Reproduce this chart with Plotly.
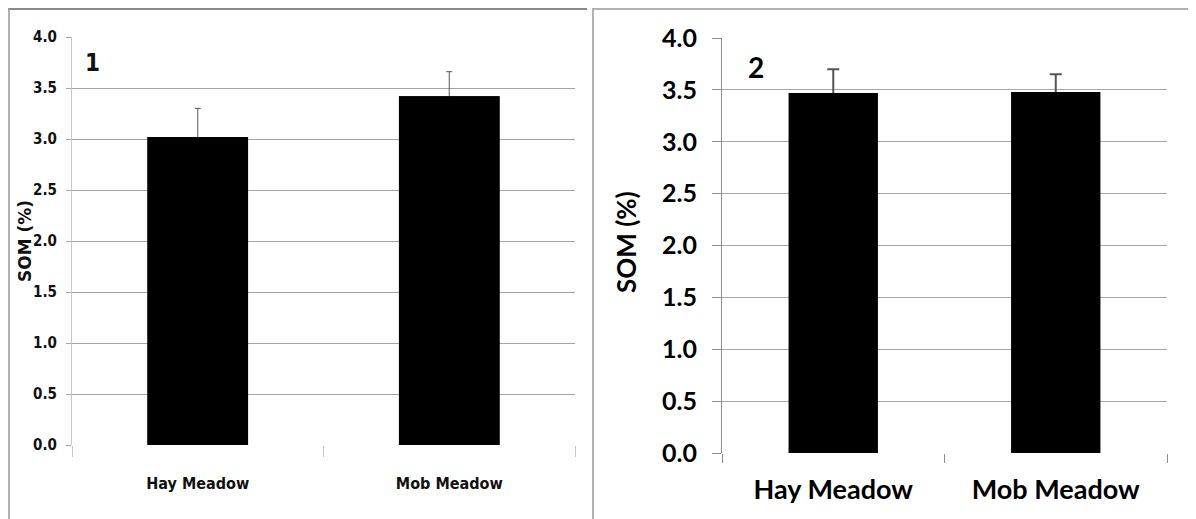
import plotly.graph_objects as go

# ---- data ----
categories = ["Hay Meadow", "Mob Meadow"]
som_site1 = [3.02, 3.42]
err_site1 = [0.28, 0.24]
som_site2 = [3.47, 3.48]
err_site2 = [0.23, 0.17]
y_ticks = [0.0, 0.5, 1.0, 1.5, 2.0, 2.5, 3.0, 3.5, 4.0]
y_title = "SOM (%)"
panel_labels = ["1", "2"]

# page body has an 8px margin; map reference pixels to paper coordinates
OFF = 8
W, H = 1196 - OFF, 519 - OFF
def px(x):
    return (x - OFF) / W
def py(y):
    return 1 - (y - OFF) / H

NARROW = "DejaVu Sans Condensed, DejaVu Sans, sans-serif"
CAL = "Lato, Carlito, Calibri, Open Sans, sans-serif"

fig = go.Figure()

# bars with error bars (lower whisker hidden by the identical bars drawn on top)
for vals, errs, xa, ya, thick, capw in [
    (som_site1, err_site1, "x", "y", 1, 3),
    (som_site2, err_site2, "x2", "y2", 2, 6),
]:
    fig.add_trace(go.Bar(
        x=categories, y=vals, width=0.4,
        marker=dict(color="black", line=dict(width=0)),
        error_y=dict(type="data", array=errs, color="#555555", thickness=thick, width=capw),
        xaxis=xa, yaxis=ya, showlegend=False, hoverinfo="skip"))
    fig.add_trace(go.Bar(
        x=categories, y=vals, width=0.4,
        marker=dict(color="black", line=dict(width=0)),
        xaxis=xa, yaxis=ya, showlegend=False))

grid_l = "#a3a3a3"
grid_r = "#a6a6a6"

fig.update_layout(
    width=W, height=H,
    margin=dict(l=0, r=0, t=0, b=0, autoexpand=False),
    paper_bgcolor="white", plot_bgcolor="white",
    showlegend=False, barmode="overlay",
    xaxis=dict(domain=[px(72), px(575)], anchor="y", type="category",
               showgrid=False, showline=False, zeroline=False,
               ticks="outside", tickson="boundaries", ticklen=11, tickcolor="#c8c8c8",
               tickwidth=1,
               tickfont=dict(family=NARROW, size=16, color="#111111", weight="bold"),
               ticklabelstandoff=27),
    yaxis=dict(domain=[py(445), py(37)], anchor="x", range=[0, 4],
               tickvals=y_ticks, tickformat=".1f",
               showgrid=True, gridcolor=grid_l, gridwidth=1,
               showline=True, linecolor="#c8c8c8", linewidth=1,
               zeroline=False,
               ticks="outside", ticklen=5, tickcolor=grid_l,
               tickfont=dict(family=NARROW, size=15, color="#111111", weight="bold"),
               ticklabelstandoff=6),
    xaxis2=dict(domain=[px(722), px(1167)], anchor="y2", type="category",
                showgrid=False, showline=False, zeroline=False,
                ticks="outside", tickson="boundaries", ticklen=9, tickcolor="#8c8c8c",
                tickwidth=1,
                tickfont=dict(family=CAL, size=27, color="black", weight="bold"),
                ticklabelstandoff=18),
    yaxis2=dict(domain=[py(453), py(38)], anchor="x2", range=[0, 4],
                tickvals=y_ticks, tickformat=".1f",
                showgrid=True, gridcolor=grid_r, gridwidth=1,
                showline=True, linecolor="#8c8c8c", linewidth=1,
                zeroline=False,
                ticks="outside", ticklen=9, tickcolor="#8c8c8c",
                tickfont=dict(family=CAL, size=25, color="black", weight="bold"),
                ticklabelstandoff=10),
)

annotations = [
    dict(text=y_title, x=px(25), y=py(241), xref="paper", yref="paper",
         xanchor="center", yanchor="middle",
         showarrow=False, textangle=-90,
         font=dict(family="DejaVu Sans, sans-serif", size=17, color="#111111", weight="bold")),
    dict(text=y_title, x=px(626), y=py(242), xref="paper", yref="paper",
         xanchor="center", yanchor="middle",
         showarrow=False, textangle=-90,
         font=dict(family=CAL, size=26, color="black", weight="bold")),
    dict(text=panel_labels[0], x=px(93), y=py(63), xref="paper", yref="paper",
         xanchor="center", yanchor="middle",
         showarrow=False,
         font=dict(family=NARROW, size=24, color="#111111", weight="bold")),
    dict(text=panel_labels[1], x=px(756), y=py(67), xref="paper", yref="paper",
         xanchor="center", yanchor="middle",
         showarrow=False,
         font=dict(family=CAL, size=28, color="black", weight="bold")),
]
fig.update_layout(annotations=annotations)

shapes = [
    dict(type="line", xref="paper", yref="paper", x0=px(8), x1=px(587), y0=py(9), y1=py(9),
         line=dict(color="#8a8a8a", width=2)),
    dict(type="line", xref="paper", yref="paper", x0=px(9), x1=px(9), y0=py(8), y1=py(519),
         line=dict(color="#9a9a9a", width=1.5)),
    dict(type="line", xref="paper", yref="paper", x0=px(593), x1=px(1196), y0=py(9), y1=py(9),
         line=dict(color="#9a9a9a", width=1.5)),
    dict(type="line", xref="paper", yref="paper", x0=px(593), x1=px(593), y0=py(8), y1=py(519),
         line=dict(color="#9a9a9a", width=1.5)),
]
fig.update_layout(shapes=shapes)

fig.write_html("out.html")
